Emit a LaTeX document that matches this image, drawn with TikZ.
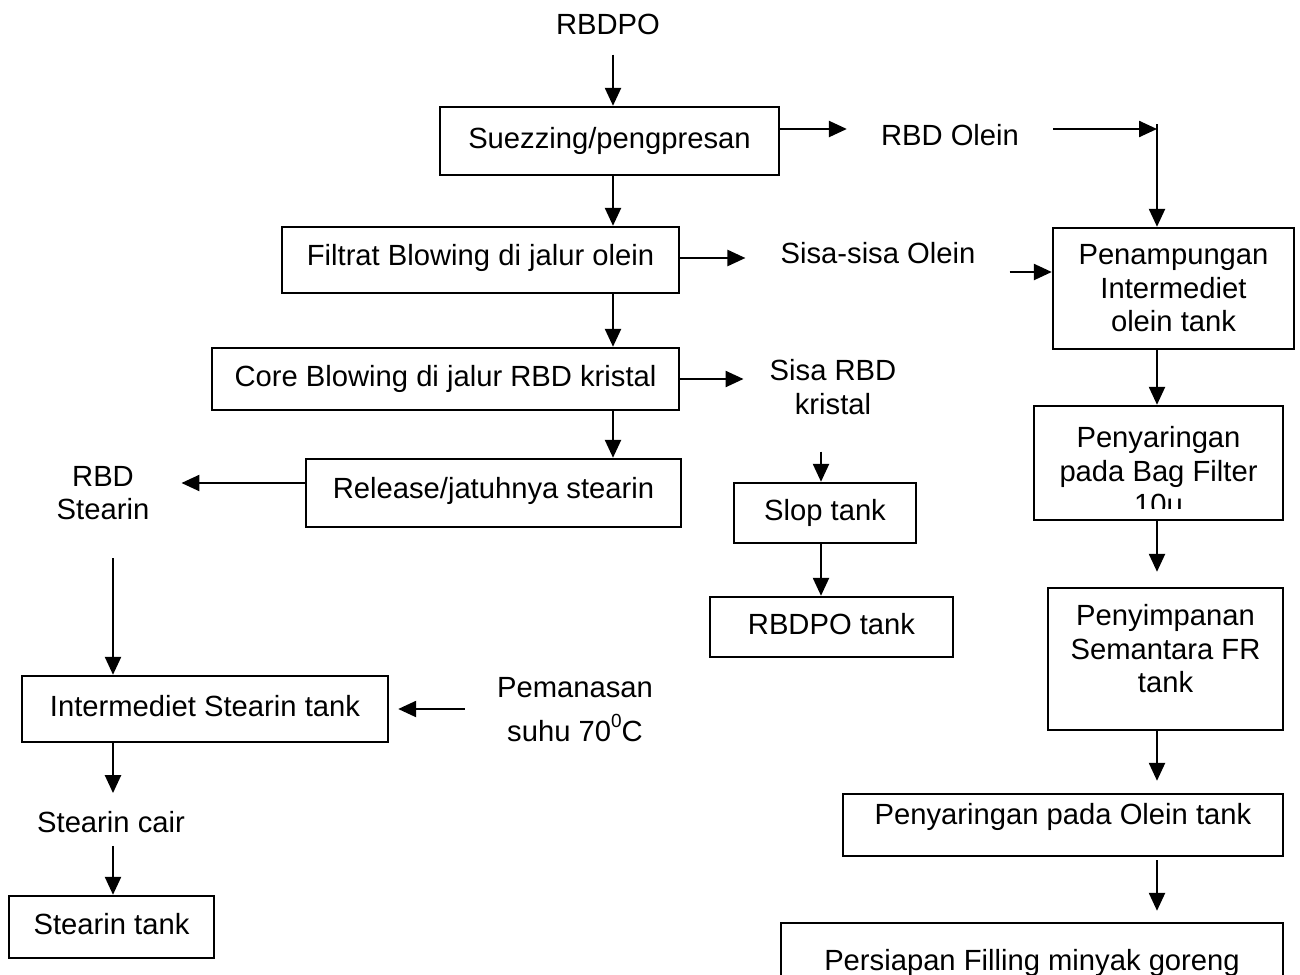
\documentclass[tikz,border=0pt]{standalone}
\usepackage{fontspec}
\setmainfont{Liberation Sans}
\usetikzlibrary{arrows.meta}
\tikzset{
  txt/.style={font=\fontsize{29.2}{33.5}\selectfont, inner sep=0pt, align=center},
  frame/.style={draw, line width=2.4pt},
  box/.style n args={2}{txt, frame, minimum width=#1, minimum height=#2,
    text height=21pt, text depth=6pt},
  flow/.style={line width=2.4pt, -{Triangle[length=18pt,width=16pt]}},
}
\newcommand{\degsup}{\raisebox{0.5em}{\fontsize{19}{19}\selectfont 0}}
\begin{document}
\begin{tikzpicture}[x=1pt,y=-1pt]
\useasboundingbox (0,0) rectangle (1300,974);

% guide coordinates for the connector lines
\coordinate (xmain) at (613,0);
\coordinate (xright) at (1157,0);
\coordinate (xslop) at (821,0);
\coordinate (xleft) at (113,0);
\coordinate (yolein) at (0,129);
\coordinate (yfilt) at (0,258);
\coordinate (ysisa) at (0,272);
\coordinate (ycore) at (0,379);
\coordinate (yrel) at (0,483);
\coordinate (yheat) at (0,709);
\coordinate (join) at (1157,129);
\coordinate (jointop) at (1157,124);

% main line
\node[txt] (rbdpo) at (608,24) {RBDPO};
\node[box={339pt}{68pt}] (suez) at (609.5,141) {Suezzing/pengpresan};
\node[box={397pt}{66pt}, text depth=11pt] (filt) at (480.5,260) {Filtrat Blowing di jalur olein};
\node[box={467pt}{62pt}] (core) at (445.5,379) {Core Blowing di jalur RBD kristal};
\node[box={375pt}{68pt}, text depth=11pt] (release) at (493.5,493) {Release/jatuhnya stearin};

% side products
\node[txt] (olein) at (950,135.5) {RBD Olein};
\node[txt] (sisaol) at (878,253) {Sisa-sisa Olein};
\node[txt] (sisarbd) at (833,387) {Sisa RBD\\kristal};
\node[box={182pt}{60pt}] (slop) at (825,513) {Slop tank};
\node[box={243pt}{60pt}] (rbdpotank) at (831.5,627) {RBDPO tank};

% stearin line
\node[txt] (rbdst) at (103,493) {RBD\\Stearin};
\node[box={366pt}{66pt}] (stint) at (205,709) {Intermediet Stearin tank};
\node[txt] (heat) at (575,710) {Pemanasan\\[10.5pt]suhu 70\degsup C};
\node[txt] (cair) at (111,822) {Stearin cair};
\node[box={205pt}{62pt}] (sttank) at (111.5,927) {Stearin tank};

% olein line
\node[txt, frame, minimum width=241pt, minimum height=121pt] (penamp) at (1173.5,288.5) {Penampungan\\Intermediet\\olein tank};
\node[frame, minimum width=249pt, minimum height=114pt, inner sep=0pt] (bag) at (1158.5,463) {};
\begin{scope}
  \clip (1034,406) rectangle (1283,508);
  \node[txt] (bagtext) at (1158.5,471) {Penyaringan\\pada Bag Filter\\10u};
\end{scope}
\node[frame, minimum width=235pt, minimum height=142pt, inner sep=0pt] (simpan) at (1165.5,659) {};
\node[txt] (simpantext) at (1165.5,649) {Penyimpanan\\Semantara FR\\tank};
\node[box={440pt}{62pt}, text depth=23pt] (oleintank) at (1063,825) {Penyaringan pada Olein tank};
\node[box={502pt}{80pt}] (filling) at (1032,963) {Persiapan Filling minyak goreng};

% connectors: main line
\draw[flow, shorten <=20pt] (rbdpo.south -| xmain) -- (suez.north -| xmain);
\draw[flow] (suez.south -| xmain) -- (filt.north -| xmain);
\draw[flow] (filt.south -| xmain) -- (core.north -| xmain);
\draw[flow] (core.south -| xmain) -- (release.north -| xmain);

% connectors: side branches
\draw[flow, shorten >=34pt] (suez.east |- yolein) -- (olein.west |- yolein);
\draw[flow, shorten <=34pt] (olein.east |- yolein) -- (join);
\draw[flow] (jointop) -- (penamp.north -| xright);
\draw[flow, shorten >=35pt] (filt.east |- yfilt) -- (sisaol.west |- yfilt);
\draw[flow, shorten <=34pt] (sisaol.east |- ysisa) -- (penamp.west |- ysisa);
\draw[flow, shorten >=26pt] (core.east |- ycore) -- (sisarbd.west |- ycore);
\draw[flow, shorten <=37pt] (sisarbd.south -| xslop) -- (slop.north -| xslop);
\draw[flow] (slop.south -| xslop) -- (rbdpotank.north -| xslop);

% connectors: stearin line
\draw[flow, shorten >=32pt] (release.west |- yrel) -- (rbdst.east |- yrel);
\draw[flow, shorten <=38pt] (rbdst.south -| xleft) -- (stint.north -| xleft);
\draw[flow, shorten <=32pt, shorten >=9pt] (heat.west |- yheat) -- (stint.east |- yheat);
\draw[flow, shorten >=18pt] (stint.south -| xleft) -- (cair.north -| xleft);
\draw[flow, shorten <=13pt] (cair.south -| xleft) -- (sttank.north -| xleft);

% connectors: olein line
\draw[flow] (penamp.south -| xright) -- (bag.north -| xright);
\draw[flow, shorten >=15pt] (bag.south -| xright) -- (simpan.north -| xright);
\draw[flow, shorten >=12pt] (simpan.south -| xright) -- (oleintank.north -| xright);
\draw[flow, shorten <=3pt, shorten >=11pt] (oleintank.south -| xright) -- (filling.north -| xright);
\end{tikzpicture}
\end{document}
